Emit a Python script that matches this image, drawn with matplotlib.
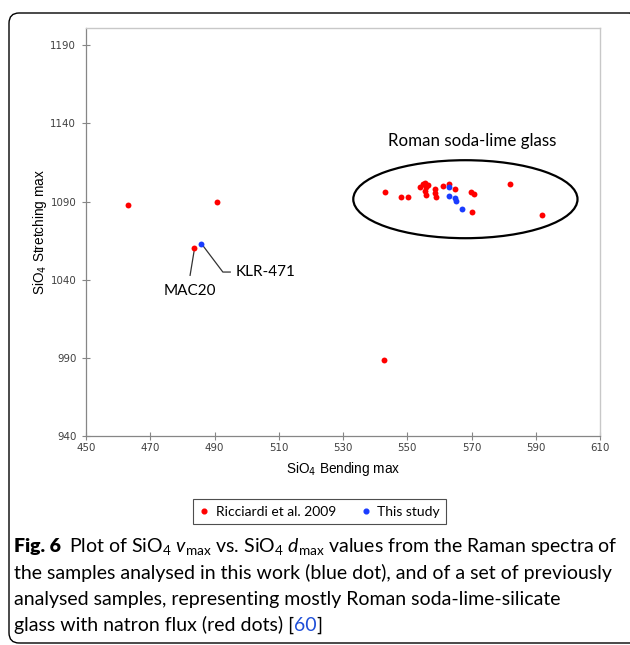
import matplotlib
matplotlib.use("Agg")
import matplotlib.pyplot as plt
from matplotlib.patches import Ellipse, FancyBboxPatch
from matplotlib.lines import Line2D

# Ricciardi et al. 2009 (red)
ricciardi_bend = [463.1, 490.8, 483.7, 542.8,
                  543.1, 548.1, 550.1, 554.0, 554.9, 555.6, 555.9, 555.6,
                  555.9, 556.6, 558.7, 558.7, 559.0, 561.1, 562.9, 565.0,
                  569.8, 570.9, 570.2, 582.1, 591.9]
ricciardi_stretch = [1087.6, 1089.6, 1060.6, 988.5,
                     1096.4, 1093.0, 1093.2, 1099.4, 1101.1, 1101.9, 1099.4, 1096.8,
                     1094.0, 1100.4, 1098.3, 1095.5, 1092.6, 1099.8, 1101.5, 1098.3,
                     1096.2, 1095.1, 1083.4, 1101.5, 1081.4]

# This study (blue)
this_bend = [485.8, 562.9, 562.9, 565.0, 565.2, 567.0]
this_stretch = [1062.7, 1099.4, 1093.4, 1092.4, 1090.2, 1085.1]

x_ticks = [450, 470, 490, 510, 530, 550, 570, 590, 610]
y_ticks = [940, 990, 1040, 1090, 1140, 1190]

RED = "#ff0000"
BLUE = "#1a3cff"
AXIS_GRAY = "#868686"

W, H = 630, 645
fig = plt.figure(figsize=(W / 100, H / 100), dpi=100)


def fx(px):
    return px / W


def fy(py):
    return 1 - py / H


# rounded outer frame
frame = FancyBboxPatch((fx(9), fy(643)), fx(640) - fx(9), fy(13) - fy(643),
                       boxstyle="round,pad=0,rounding_size=0.016",
                       transform=fig.transFigure, fill=False,
                       edgecolor="black", linewidth=1.0)
fig.patches.append(frame)

ax = fig.add_axes([fx(86), fy(436), fx(600) - fx(86), fy(28) - fy(436)])
ax.set_xlim(450, 610)
ax.set_ylim(940, 940 + (436 - 28) / 1.563)

ax.scatter(ricciardi_bend, ricciardi_stretch, s=18, color=RED, zorder=3, linewidths=0)
ax.scatter(this_bend, this_stretch, s=18, color=BLUE, zorder=3, linewidths=0)

ax.add_patch(Ellipse((568.1, 1091.5), 69.8, 49.9, fill=False,
                     edgecolor="black", linewidth=1.6, zorder=2))

ax.set_xticks(x_ticks)
ax.set_yticks(y_ticks)
ax.tick_params(direction="inout", length=6, width=0.8, color=AXIS_GRAY,
               labelsize=7.4, labelcolor="#404040")
ax.tick_params(axis="x", pad=2)
ax.tick_params(axis="y", pad=4)
for lab in ax.get_xticklabels() + ax.get_yticklabels():
    lab.set_family("DejaVu Sans")

for side in ["left", "bottom"]:
    ax.spines[side].set_color(AXIS_GRAY)
    ax.spines[side].set_linewidth(0.9)
for side in ["top", "right"]:
    ax.spines[side].set_color("#c8c8c8")
    ax.spines[side].set_linewidth(1.0)

ax.set_xlabel("SiO$_4$ Bending max", family="Liberation Sans", fontsize=9.8, labelpad=5)
ax.set_ylabel("SiO$_4$ Stretching max", family="Liberation Sans", fontsize=9.8, labelpad=1)

ax.text(570.1, 1128.5, "Roman soda-lime glass", family="Lato", fontsize=12.2,
        ha="center", va="center")

# leader lines
ax.plot([483.7, 482.4], [1059.0, 1042.8], color="#333333", linewidth=0.9)
ax.text(482.4, 1032.6, "MAC20", family="Lato", fontsize=11, ha="center", va="center")
ax.plot([486.5, 492.6, 494.9], [1061.5, 1044.9, 1044.9], color="#333333", linewidth=0.9)
ax.text(496.6, 1044.9, "KLR-471", family="Lato", fontsize=11, ha="left", va="center")

handles = [Line2D([], [], marker="o", linestyle="", color=RED, markersize=3.4),
           Line2D([], [], marker="o", linestyle="", color=BLUE, markersize=3.4)]
leg = fig.legend(handles, ["Ricciardi et al. 2009", "This study"], loc="center",
                 bbox_to_anchor=(fx(319.5), fy(511.5)), ncol=2, frameon=True,
                 fancybox=False, edgecolor="#222222", prop={"family": "Lato", "size": 10},
                 handlelength=0.8, handletextpad=0.4, columnspacing=1.8,
                 borderpad=0.45, borderaxespad=0)
leg.get_frame().set_linewidth(0.8)

# caption
plt.rcParams["mathtext.fontset"] = "custom"
plt.rcParams["mathtext.rm"] = "Lato"
plt.rcParams["mathtext.it"] = "Lato:italic"
cap_size = 14.0
renderer = fig.canvas.get_renderer()


def put(x_px, y_px, s, **kw):
    t = fig.text(fx(x_px), fy(y_px), s, fontsize=cap_size, va="baseline",
                 ha="left", **kw)
    bb = t.get_window_extent(renderer)
    return x_px + bb.width


x = put(14, 552, "Fig. 6", family="Lato", weight="heavy")
put(x + 8, 552, r"Plot of SiO$_4$ $\mathit{v}_\mathrm{max}$ vs. SiO$_4$ $\mathit{d}_\mathrm{max}$ values from the Raman spectra of",
    family="Lato")
put(14, 579, "the samples analysed in this work (blue dot), and of a set of previously", family="Lato")
put(14, 605, "analysed samples, representing mostly Roman soda-lime-silicate", family="Lato")
x = put(14, 631, "glass with natron flux (red dots) [", family="Lato")
x = put(x, 631, "60", family="Lato", color="#1f4fd8")
put(x, 631, "]", family="Lato")

fig.savefig("out.png", dpi=100)
